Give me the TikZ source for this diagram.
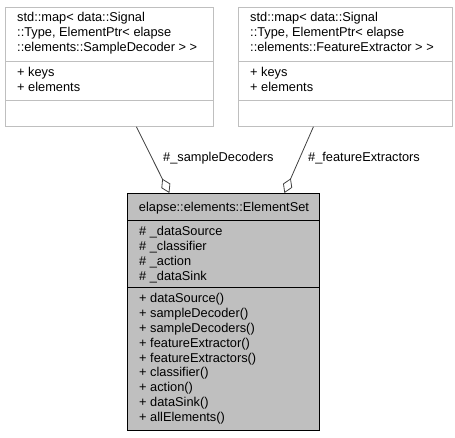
\documentclass[tikz,border=0pt]{standalone}
\usepackage{fontspec}
\setmainfont{Liberation Sans}
\usetikzlibrary{arrows.meta}
\begin{document}
\begin{tikzpicture}[x=1pt,y=-1pt,
  txt/.style={font=\fontsize{12.8}{14.8}\selectfont, inner sep=0pt, anchor=north west, align=left},
  outer/.style={draw=black!25, fill=white, line width=0.8pt, inner sep=0pt, anchor=north west},
  focus/.style={draw=black, fill=black!25, line width=0.8pt, inner sep=0pt, anchor=north west},
  sepgray/.style={draw=black!25, line width=0.8pt},
  sepblack/.style={draw=black, line width=0.8pt},
  assoc/.style={draw=black!75, line width=0.8pt, -{Diamond[open, length=16pt, width=10pt]}}
]
\useasboundingbox (0,0) rectangle (455,437);

% std::map of sample decoders
\node[outer, minimum width=208pt, minimum height=119pt] (sd) at (5,7) {};
\draw[sepgray] (5,61) -- (213,61);
\draw[sepgray] (5,100) -- (213,100);
\node[txt] (sdname) at (17,12.5) {std::map< data::Signal\\::Type, ElementPtr< elapse\\::elements::SampleDecoder > >};
\node[txt] (sdattr) at (17,67.5) {+ keys\\+ elements};

% std::map of feature extractors
\node[outer, minimum width=214pt, minimum height=119pt] (fe) at (238,7) {};
\draw[sepgray] (238,61) -- (452,61);
\draw[sepgray] (238,100) -- (452,100);
\node[txt] (fename) at (250,12.5) {std::map< data::Signal\\::Type, ElementPtr< elapse\\::elements::FeatureExtractor > >};
\node[txt] (feattr) at (250,67.5) {+ keys\\+ elements};

% ElementSet class
\node[focus, minimum width=192pt, minimum height=237pt] (set) at (127,193) {};
\draw[sepblack] (127,220) -- (319,220);
\draw[sepblack] (127,287) -- (319,287);
\node[txt, anchor=base] (setname) at (224,211) {elapse::elements::ElementSet};
\node[txt] (setattr) at (139,226.5) {\# \_dataSource\\\# \_classifier\\\# \_action\\\# \_dataSink};
\node[txt] (setops) at (139,293.5) {+ dataSource()\\+ sampleDecoder()\\+ sampleDecoders()\\+ featureExtractor()\\+ featureExtractors()\\+ classifier()\\+ action()\\+ dataSink()\\+ allElements()};

% aggregation connectors
\draw[assoc] ([xshift=27pt]sd.south) -- ([xshift=-54pt]set.north);
\draw[assoc] ([xshift=-32pt]fe.south) -- ([xshift=61pt]set.north);
\node[txt, anchor=west] (sdlabel) at (163,158) {\#\_sampleDecoders};
\node[txt, anchor=west] (felabel) at (308,158) {\#\_featureExtractors};
\end{tikzpicture}
\end{document}
